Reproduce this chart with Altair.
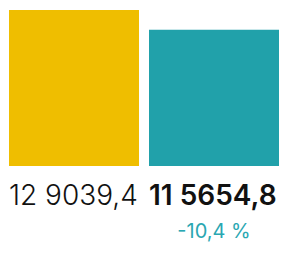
import altair as alt
import pandas as pd

categories = ["Période 1", "Période 2"]
values = [129039.4, 115654.8]
value_labels = ["12 9039,4", "11 5654,8"]
change_label = ["", "-10,4 %"]
bar_colors = ["#EFBE00", "#21A1AA"]

df = pd.DataFrame({
    "cat": categories,
    "value": values,
    "label": value_labels,
    "change": change_label,
})

PLOT_H = 156
PLOT_W = 270

xscale = alt.Scale(domain=categories, paddingInner=10 / 140, paddingOuter=0)

base = alt.Chart(df)

bars = base.mark_bar().encode(
    x=alt.X("cat:N", axis=None, scale=xscale, sort=categories),
    y=alt.Y("value:Q", axis=None,
            scale=alt.Scale(domain=[23182, 129039.4], zero=False, clamp=True)),
    y2=alt.value(PLOT_H),
    color=alt.Color("cat:N", scale=alt.Scale(domain=categories, range=bar_colors), legend=None),
)

lab1 = base.transform_filter(alt.datum.cat == categories[0]).mark_text(
    align="left", baseline="alphabetic", font="Inter", fontSize=28, fontWeight=300, color="#111111"
).encode(
    x=alt.X("cat:N", scale=xscale, bandPosition=0, axis=None),
    y=alt.value(PLOT_H + 39),
    text="label:N",
)

lab2 = base.transform_filter(alt.datum.cat == categories[1]).mark_text(
    align="left", baseline="alphabetic", font="Inter", fontSize=28, fontWeight=600, color="#111111"
).encode(
    x=alt.X("cat:N", scale=xscale, bandPosition=0, axis=None),
    y=alt.value(PLOT_H + 39),
    text="label:N",
)

chg = base.transform_filter(alt.datum.change != "").mark_text(
    align="center", baseline="alphabetic", font="Inter", fontSize=20, fontWeight=400, color="#2AA7B2"
).encode(
    x=alt.X("cat:N", scale=xscale, bandPosition=0.5, axis=None),
    y=alt.value(PLOT_H + 72),
    text="change:N",
)

chart = alt.layer(bars, lab1, lab2, chg).properties(
    width=PLOT_W,
    height=PLOT_H,
    padding={"left": 1, "top": 2, "right": 0, "bottom": 78},
    autosize=alt.AutoSizeParams(type="none"),
    background="#ffffff",
).configure_view(stroke=None)

chart.save("out.html", embed_options={"renderer": "svg", "actions": False})
